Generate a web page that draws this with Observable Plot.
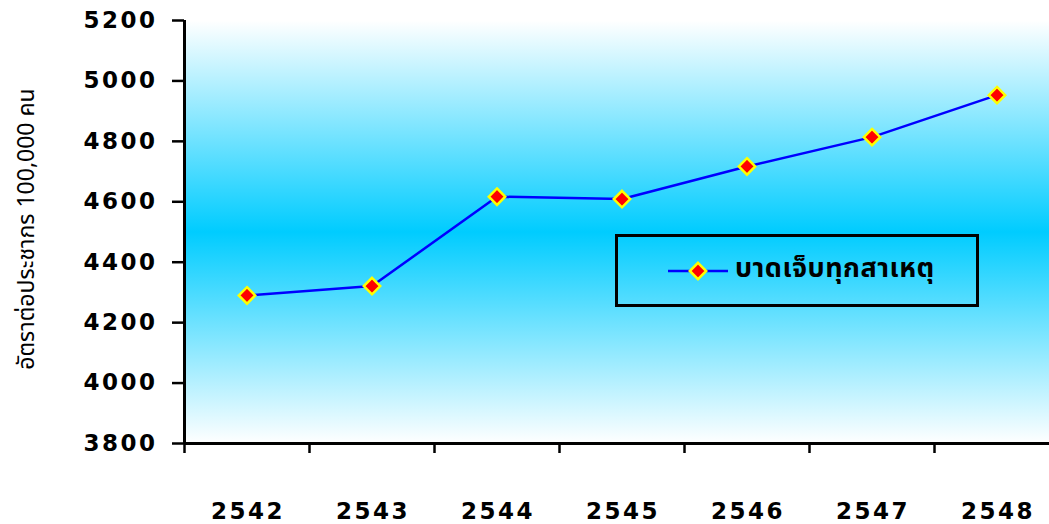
<!DOCTYPE html>
<html>
<head>
<meta charset="utf-8">
<script src="https://cdn.jsdelivr.net/npm/d3@7"></script>
<script src="https://cdn.jsdelivr.net/npm/@observablehq/plot@0.6"></script>
<style>
  body { margin: 0; background: #ffffff; }
  #wrap { position: relative; width: 1049px; height: 524px; overflow: hidden; }
  #legend {
    position: absolute; left: 615px; top: 234px; width: 364px; height: 73px;
    box-sizing: border-box; border: 3px solid #000; background: transparent;
    display: flex; align-items: center;
  }
  #legend svg { margin-left: 49px; }
  #legend span {
    margin-left: 6px; font-family: "Noto Sans Thai", Tahoma, "DejaVu Sans", sans-serif;
    font-weight: bold; font-size: 27px; color: #000; letter-spacing: 0.5px;
    position: relative; top: -2px;
  }
</style>
</head>
<body>
<div id="wrap"></div>
<script>
const years = [2542, 2543, 2544, 2545, 2546, 2547, 2548];
const rates = [4290, 4321, 4617, 4609, 4717, 4814, 4953];
const yTicks = [3800, 4000, 4200, 4400, 4600, 4800, 5000, 5200];
const xBoundaries = [2541.5, 2542.5, 2543.5, 2544.5, 2545.5, 2546.5, 2547.5];
const seriesName = "บาดเจ็บทุกสาเหตุ";
const yTitle = "อัตราต่อประชากร 100,000 คน";

const data = years.map((y, i) => ({year: y, rate: rates[i]}));
const numFont = "'DejaVu Sans', 'Liberation Sans', Arial, sans-serif";
const thaiFont = "'Noto Sans Thai', Tahoma, 'DejaVu Sans', sans-serif";

const plot = Plot.plot({
  width: 1049,
  height: 524,
  marginLeft: 184,
  marginRight: 0,
  marginTop: 20,
  marginBottom: 81,
  style: {background: "transparent", overflow: "visible"},
  x: {type: "linear", domain: [2541.5, 2548.5], range: [184, 1059]},
  y: {domain: [3800, 5200]},
  marks: [
    Plot.frame({fill: "url(#bgGrad)", stroke: null}),
    Plot.axisY({
      ticks: yTicks, tickSize: 12, tickPadding: 15, tickFormat: d => String(d),
      label: null, stroke: "#000", strokeWidth: 2.5,
      fontSize: 23, fontWeight: "bold", fontFamily: numFont, fill: "#000"
    }),
    Plot.axisX({
      ticks: xBoundaries, tickSize: 10, tickFormat: () => "", label: null,
      stroke: "#000", strokeWidth: 2.5
    }),
    Plot.axisX({
      ticks: years, tickSize: 0, tickPadding: 59, tickFormat: d => String(d), label: null,
      fontSize: 23, fontWeight: "bold", fontFamily: numFont, fill: "#000", dx: 1
    }),
    Plot.ruleY([3800], {stroke: "#000", strokeWidth: 3}),
    Plot.ruleX([2541.5], {stroke: "#000", strokeWidth: 3}),
    Plot.text([yTitle], {
      text: d => d, frameAnchor: "left", dx: -151, dy: -3, rotate: -90,
      textAnchor: "middle", lineAnchor: "bottom",
      fontSize: 23, fontFamily: thaiFont, fill: "#000"
    }),
    Plot.line(data, {x: "year", y: "rate", stroke: "#0000FF", strokeWidth: 2.5}),
    Plot.dot(data, {x: "year", y: "rate", symbol: "diamond2", r: 7.4, fill: "#FF0000", stroke: "#FFFF00", strokeWidth: 2.5})
  ]
});

const svgSel = d3.select(plot);
// letter spacing for the tick labels
svgSel.selectAll("g[aria-label='y-axis tick label'] text").style("letter-spacing", "2.5px");
svgSel.selectAll("g[aria-label='x-axis tick label'] text").style("letter-spacing", "2.5px");

// gradient definition for the plot background
const defs = svgSel.insert("defs", ":first-child");
const grad = defs.append("linearGradient").attr("id", "bgGrad")
  .attr("x1", 0).attr("y1", 0).attr("x2", 0).attr("y2", 1);
grad.append("stop").attr("offset", "0%").attr("stop-color", "#ffffff");
grad.append("stop").attr("offset", "50%").attr("stop-color", "#00CCFF");
grad.append("stop").attr("offset", "100%").attr("stop-color", "#ffffff");

const wrap = document.getElementById("wrap");
wrap.appendChild(plot);

// legend box drawn over the plot
const legend = document.createElement("div");
legend.id = "legend";
const ls = d3.create("svg").attr("width", 62).attr("height", 24);
ls.append("line").attr("x1", 1).attr("x2", 61).attr("y1", 12).attr("y2", 12)
  .attr("stroke", "#0000FF").attr("stroke-width", 2.5);
ls.append("path").attr("d", d3.symbol(d3.symbolDiamond2, Math.PI * 7.4 * 7.4)())
  .attr("transform", "translate(31,12)")
  .attr("fill", "#FF0000").attr("stroke", "#FFFF00").attr("stroke-width", 2.5);
legend.appendChild(ls.node());
const lt = document.createElement("span");
lt.textContent = seriesName;
legend.appendChild(lt);
wrap.appendChild(legend);
</script>
</body>
</html>
